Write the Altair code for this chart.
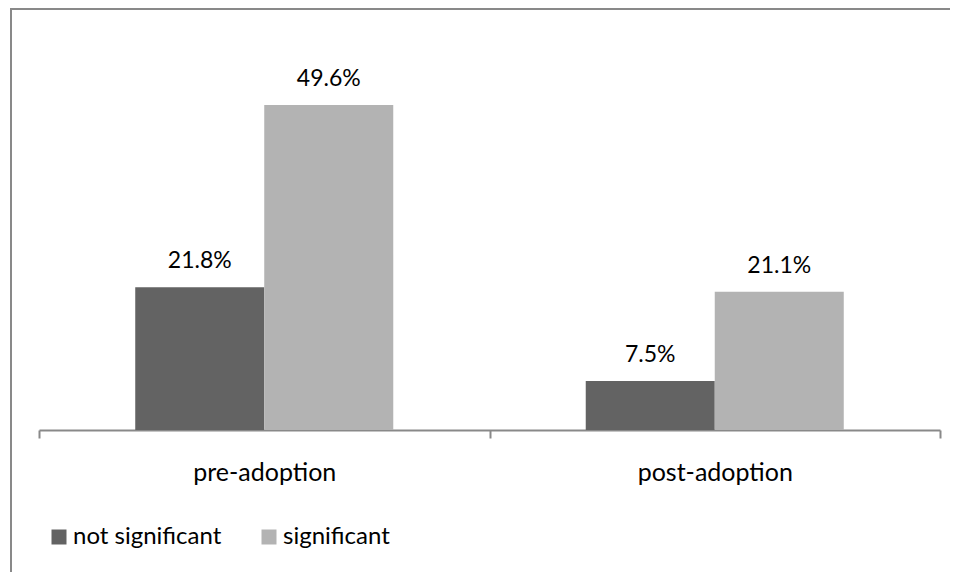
import altair as alt
import pandas as pd

categories = ["pre-adoption", "pre-adoption", "post-adoption", "post-adoption"]
series = ["not significant", "significant", "not significant", "significant"]
values = [21.8, 49.6, 7.5, 21.1]

cat_order = ["pre-adoption", "post-adoption"]
ser_order = ["not significant", "significant"]
colors = ["#636363", "#b3b3b3"]

df = pd.DataFrame({
    "category": categories,
    "series": series,
    "value": values,
    "label": [f"{v:.1f}%" for v in values],
})

FONT = "Lato"
GRAY = "#898989"

x_enc = alt.X("category:N", sort=cat_order,
              scale=alt.Scale(paddingInner=0, paddingOuter=0),
              axis=alt.Axis(title=None, labelAngle=0, tickBand="extent",
                            domainColor=GRAY, domainWidth=2, tickColor=GRAY,
                            tickWidth=2, tickSize=8, labelFont=FONT,
                            labelFontSize=25, labelColor="#000000",
                            labelPadding=42, labelBaseline="alphabetic"))
xo_enc = alt.XOffset("series:N", sort=ser_order,
                     scale=alt.Scale(paddingOuter=0.746, paddingInner=0))
y_enc = alt.Y("value:Q", scale=alt.Scale(domain=[0, 60], nice=False), axis=None)

base = alt.Chart(df)

bars = base.mark_bar().encode(
    x=x_enc,
    xOffset=xo_enc,
    y=y_enc,
    color=alt.Color("series:N", sort=ser_order,
                    scale=alt.Scale(domain=ser_order, range=colors),
                    legend=alt.Legend(title=None, orient="none", legendX=8,
                                      legendY=488, direction="horizontal",
                                      symbolType="square", symbolSize=225,
                                      symbolStrokeWidth=0, labelFont=FONT,
                                      labelFontSize=24, labelColor="#000000",
                                      labelOffset=2, columnPadding=35,
                                      padding=0)),
)

texts = base.mark_text(baseline="alphabetic", dy=-19, font=FONT,
                       fontSize=23, color="#000000").encode(
    x=x_enc,
    xOffset=xo_enc,
    y=y_enc,
    text="label:N",
)

frame_df = pd.DataFrame({"f": [0]})
frame_top = alt.Chart(frame_df).mark_rule(color=GRAY, strokeWidth=2).encode(
    x=alt.value(-28), x2=alt.value(912), y=alt.value(-28))
frame_left = alt.Chart(frame_df).mark_rule(color=GRAY, strokeWidth=2).encode(
    x=alt.value(-28), y=alt.value(-29), y2=alt.value(545))

chart = alt.layer(bars, texts, frame_top, frame_left).properties(
    width=901, height=393,
    autosize=alt.AutoSizeParams(type="none"),
    padding={"left": 31, "top": 29, "right": 10, "bottom": 142},
).configure(
    background="white",
    view=alt.ViewConfig(stroke="transparent", strokeWidth=0),
)

chart.save("out.html", embed_options={"renderer": "svg", "actions": False})
